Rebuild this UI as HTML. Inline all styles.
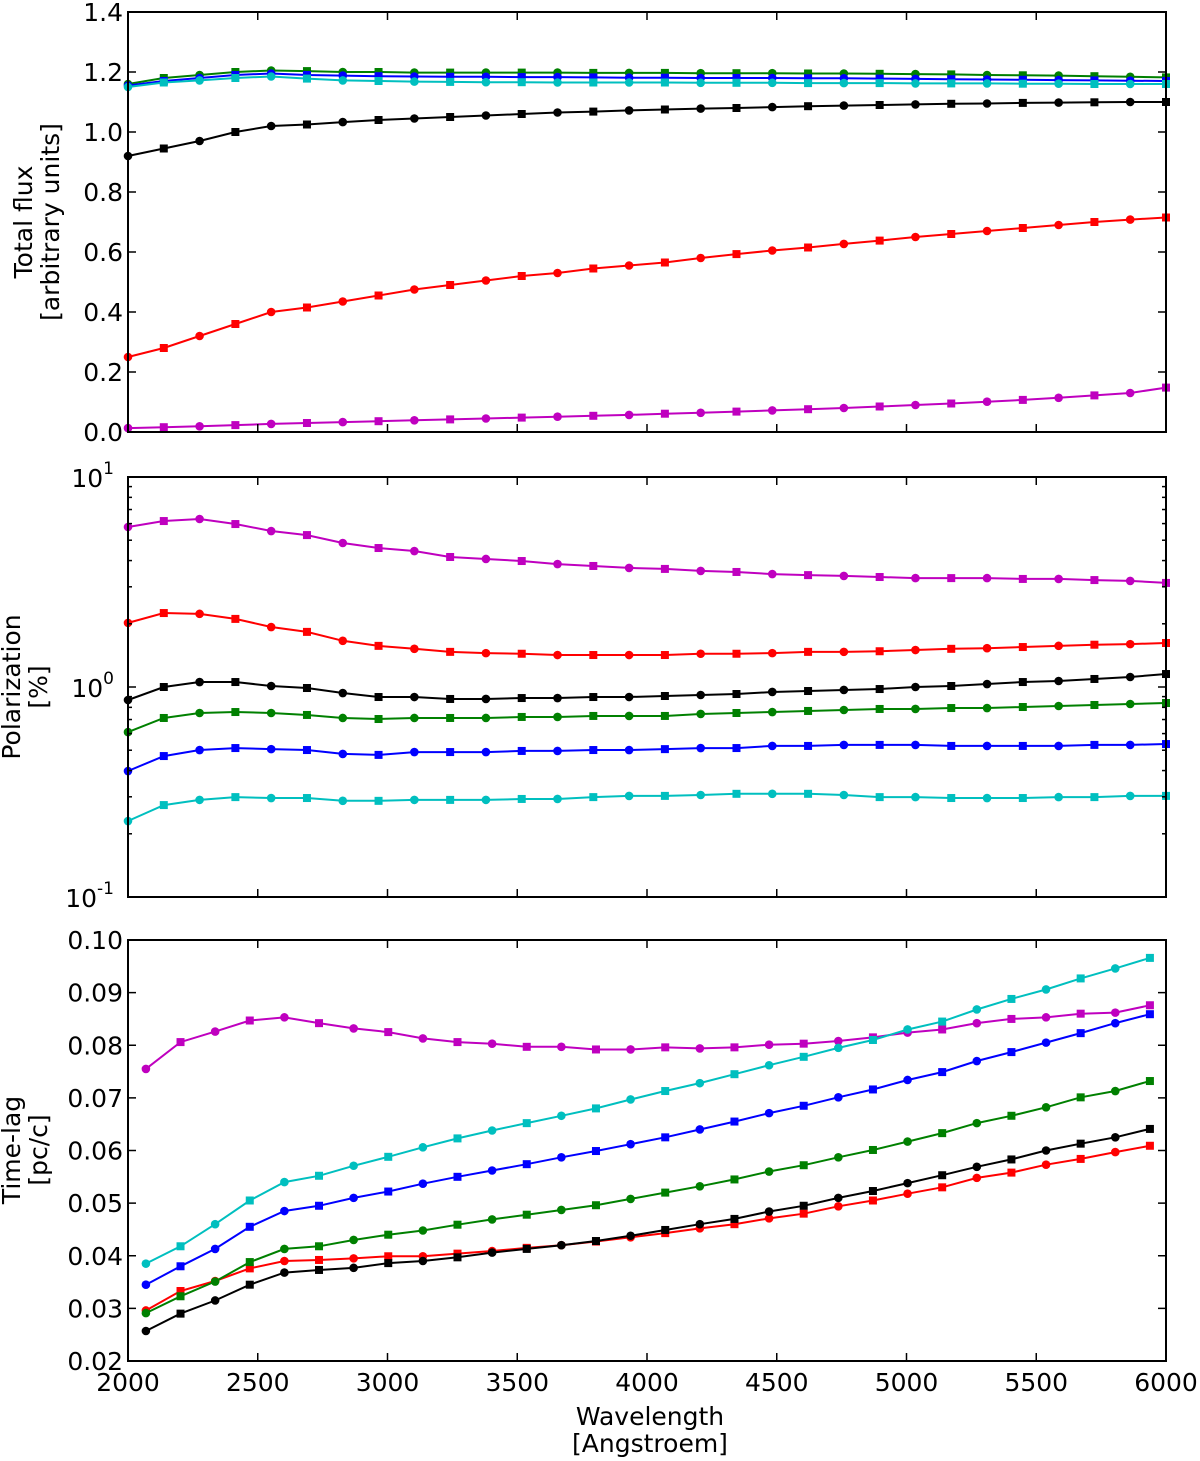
<!DOCTYPE html>
<html><head><meta charset="utf-8"><style>
html,body{margin:0;padding:0;background:#fff;}
svg{display:block;font-family:"DejaVu Sans","Liberation Sans",sans-serif;}
</style></head><body>
<svg id="chart" width="1200" height="1461" viewBox="0 0 1200 1461" xmlns="http://www.w3.org/2000/svg"></svg>
<script>
const seriesColors = ['#bf00bf','#ff0000','#000000','#008000','#0000ff','#00bfbf'];
const seriesNames = ['magenta','red','black','green','blue','cyan'];
// Panel 1: total flux
const flux_m=[0.013,0.016,0.019,0.023,0.027,0.030,0.033,0.036,0.039,0.042,0.045,0.048,0.051,0.054,0.057,0.061,0.064,0.068,0.072,0.076,0.080,0.085,0.090,0.095,0.101,0.107,0.114,0.122,0.130,0.148];
const flux_r=[0.25,0.28,0.32,0.36,0.40,0.415,0.435,0.455,0.475,0.49,0.505,0.52,0.53,0.545,0.555,0.565,0.58,0.593,0.605,0.615,0.627,0.638,0.65,0.66,0.67,0.68,0.69,0.70,0.708,0.715];
const flux_k=[0.92,0.945,0.97,1.0,1.02,1.025,1.033,1.04,1.045,1.05,1.055,1.06,1.065,1.068,1.072,1.075,1.078,1.08,1.083,1.086,1.088,1.09,1.092,1.094,1.095,1.097,1.098,1.099,1.1,1.1];
const flux_g=[1.16,1.18,1.19,1.2,1.205,1.203,1.2,1.2,1.198,1.198,1.198,1.198,1.198,1.197,1.197,1.197,1.196,1.196,1.196,1.195,1.195,1.194,1.193,1.192,1.19,1.189,1.188,1.186,1.184,1.182];
const flux_b=[1.155,1.17,1.18,1.19,1.195,1.19,1.188,1.186,1.185,1.184,1.184,1.183,1.183,1.182,1.181,1.181,1.18,1.18,1.18,1.179,1.179,1.178,1.177,1.176,1.175,1.174,1.173,1.172,1.171,1.17];
const flux_c=[1.15,1.165,1.172,1.18,1.185,1.178,1.172,1.17,1.168,1.167,1.166,1.166,1.165,1.165,1.165,1.165,1.164,1.164,1.164,1.163,1.163,1.163,1.162,1.162,1.162,1.161,1.161,1.16,1.16,1.16];
// Panel 2: polarization (%)
const pol_m=[5.78,6.17,6.31,5.97,5.53,5.29,4.85,4.59,4.44,4.16,4.07,3.98,3.85,3.77,3.69,3.65,3.57,3.53,3.45,3.41,3.38,3.34,3.30,3.30,3.30,3.27,3.27,3.23,3.20,3.13];
const pol_r=[2.02,2.25,2.23,2.11,1.93,1.83,1.66,1.57,1.52,1.47,1.45,1.44,1.42,1.42,1.42,1.42,1.44,1.44,1.45,1.47,1.47,1.48,1.50,1.52,1.53,1.55,1.57,1.59,1.60,1.62];
const pol_k=[0.867,1.0,1.056,1.056,1.011,0.989,0.936,0.896,0.896,0.877,0.877,0.886,0.886,0.896,0.896,0.906,0.916,0.926,0.947,0.957,0.968,0.978,1.0,1.011,1.033,1.056,1.068,1.092,1.116,1.153];
const pol_g=[0.610,0.712,0.752,0.760,0.752,0.736,0.712,0.704,0.712,0.712,0.712,0.720,0.720,0.728,0.728,0.728,0.744,0.752,0.760,0.769,0.777,0.786,0.786,0.794,0.794,0.803,0.812,0.821,0.830,0.839];
const pol_b=[0.398,0.469,0.501,0.512,0.506,0.501,0.480,0.475,0.490,0.490,0.490,0.496,0.496,0.501,0.501,0.506,0.512,0.512,0.524,0.524,0.530,0.530,0.530,0.524,0.524,0.524,0.524,0.530,0.530,0.535];
const pol_c=[0.230,0.274,0.290,0.299,0.296,0.296,0.287,0.287,0.290,0.290,0.290,0.293,0.293,0.299,0.303,0.303,0.306,0.310,0.310,0.310,0.306,0.299,0.299,0.296,0.296,0.296,0.299,0.299,0.303,0.303];
// Panel 3: time-lag (pc/c)
const lag_m=[0.0755,0.0806,0.0826,0.0847,0.0853,0.0842,0.0832,0.0825,0.0813,0.0806,0.0803,0.0797,0.0797,0.0792,0.0792,0.0796,0.0794,0.0796,0.0801,0.0803,0.0808,0.0815,0.0824,0.0830,0.0842,0.0850,0.0853,0.0860,0.0862,0.0876];
const lag_r=[0.0296,0.0333,0.0352,0.0376,0.039,0.0392,0.0395,0.0399,0.0399,0.0404,0.0409,0.0415,0.042,0.0427,0.0435,0.0443,0.0452,0.046,0.0471,0.048,0.0494,0.0505,0.0518,0.053,0.0548,0.0558,0.0573,0.0584,0.0597,0.0609];
const lag_k=[0.0257,0.029,0.0315,0.0345,0.0368,0.0373,0.0377,0.0386,0.039,0.0397,0.0406,0.0413,0.042,0.0428,0.0438,0.0449,0.046,0.047,0.0484,0.0495,0.051,0.0523,0.0538,0.0553,0.0569,0.0583,0.06,0.0613,0.0625,0.0641];
const lag_g=[0.0291,0.0323,0.0351,0.0388,0.0413,0.0418,0.043,0.044,0.0448,0.0459,0.0469,0.0478,0.0487,0.0496,0.0508,0.052,0.0532,0.0545,0.056,0.0572,0.0587,0.0601,0.0617,0.0633,0.0652,0.0666,0.0682,0.0701,0.0713,0.0732];
const lag_b=[0.0345,0.038,0.0413,0.0455,0.0485,0.0495,0.051,0.0522,0.0537,0.055,0.0562,0.0574,0.0587,0.0599,0.0612,0.0625,0.064,0.0655,0.0671,0.0685,0.0701,0.0716,0.0734,0.0749,0.077,0.0787,0.0805,0.0823,0.0842,0.0859];
const lag_c=[0.0385,0.0418,0.046,0.0505,0.054,0.0552,0.0571,0.0588,0.0606,0.0623,0.0638,0.0652,0.0666,0.068,0.0697,0.0713,0.0728,0.0745,0.0762,0.0778,0.0795,0.0810,0.0830,0.0845,0.0868,0.0888,0.0906,0.0927,0.0946,0.0966];
const xTicks=[2000,2500,3000,3500,4000,4500,5000,5500,6000];
const fluxTicks=['0.0','0.2','0.4','0.6','0.8','1.0','1.2','1.4'];
const lagTicks=['0.02','0.03','0.04','0.05','0.06','0.07','0.08','0.09','0.10'];

const NS='http://www.w3.org/2000/svg';
const svg=document.getElementById('chart');
function mk(tag,attrs,parent){const e=document.createElementNS(NS,tag);for(const k in attrs)e.setAttribute(k,attrs[k]);(parent||svg).appendChild(e);return e;}
const X0=128,X1=1166;
const xs=v=>X0+(v-2000)/4000*(X1-X0);
const N=30;
const wlA=[],wlB=[];
for(let i=0;i<N;i++){wlA.push(2000+i*4000/(N-1));wlB.push(2069+i*(5938-2069)/(N-1));}

function panel(name,top,bot,ys,sets,wl,yTickVals,yTickLabels,minor,log){
  const g=mk('g',{});
  
  
  sets.forEach((arr,si)=>{
    const sg=mk('g',{},g);
    
    
    const pts=arr.map((v,i)=>xs(wl[i]).toFixed(1)+','+ys(v).toFixed(1)).join(' ');
    const pl=mk('polyline',{points:pts,fill:'none',stroke:seriesColors[si],'stroke-width':2},sg);
    
    
    arr.forEach((v,i)=>{
      const cx=xs(wl[i]),cy=ys(v);
      let m;
      if(i%2===0) m=mk('circle',{cx:cx,cy:cy,r:4.3,fill:seriesColors[si]},sg);
      else m=mk('rect',{x:cx-4,y:cy-4,width:8,height:8,fill:seriesColors[si]},sg);
      
      
    });
  });
  const fr=mk('rect',{x:X0,y:top,width:X1-X0,height:bot-top,fill:'none',stroke:'#000','stroke-width':2},g);
  
  
  xTicks.forEach(t=>{const x=xs(t);
    mk('line',{x1:x,y1:bot,x2:x,y2:bot-8,stroke:'#000','stroke-width':1.5},g);
    mk('line',{x1:x,y1:top,x2:x,y2:top+8,stroke:'#000','stroke-width':1.5},g);});
  yTickVals.forEach((v,i)=>{const y=ys(v);
    mk('line',{x1:X0,y1:y,x2:X0+8,y2:y,stroke:'#000','stroke-width':1.5},g);
    mk('line',{x1:X1,y1:y,x2:X1-8,y2:y,stroke:'#000','stroke-width':1.5},g);
    if(log){
      const t=mk('text',{x:X0-14,y:y+10,'font-size':25,'text-anchor':'end'},g);
      t.textContent='10';
      const s=mk('tspan',{dy:-13,'font-size':17},t);s.textContent=yTickLabels[i];
      
      
    } else {
      const t=mk('text',{x:X0-5,y:y+9,'font-size':25,'text-anchor':'end'},g);
      t.textContent=yTickLabels[i];
      
      
    }
  });
  (minor||[]).forEach(v=>{const y=ys(v);
    mk('line',{x1:X0,y1:y,x2:X0+4,y2:y,stroke:'#000','stroke-width':1.5},g);
    mk('line',{x1:X1,y1:y,x2:X1-4,y2:y,stroke:'#000','stroke-width':1.5},g);});
  return g;
}
const y1=v=>432-v/1.4*420;
panel('flux-panel',12,432,y1,[flux_m,flux_r,flux_k,flux_g,flux_b,flux_c],wlA,fluxTicks.map(Number),fluxTicks,null,false);
const y2=v=>687-Math.log10(v)*210;
const minor2=[];for(let d=-1;d<=0;d++)for(let k=2;k<=9;k++)minor2.push(k*Math.pow(10,d));
panel('polarization-panel',477,897,y2,[pol_m,pol_r,pol_k,pol_g,pol_b,pol_c],wlA,[10,1,0.1],['1','0','-1'],minor2,true);
const y3=v=>1361-(v-0.02)/0.08*421;
panel('time-lag-panel',940,1361,y3,[lag_m,lag_r,lag_k,lag_g,lag_b,lag_c],wlB,lagTicks.map(Number),lagTicks,null,false);
xTicks.forEach(t=>{const tx=mk('text',{x:xs(t),y:1391,'font-size':25,'text-anchor':'middle'});
  tx.textContent=t;
  
  });
function label(lines,x,y,rot,nm){
  const t=mk('text',{x:x,y:y,'font-size':25,'text-anchor':'middle',transform:rot?`rotate(-90 ${x} ${y})`:''});
  
  
  lines.forEach((l,i)=>{const s=mk('tspan',{x:x,dy:i?27:0},t);s.textContent=l;});
}
label(['Wavelength','[Angstroem]'],650,1425,false,'x-axis-title');
label(['Total flux','[arbitrary units]'],32,222,true,'flux-y-axis-title');
label(['Polarization','[%]'],20,687,true,'polarization-y-axis-title');
label(['Time-lag','[pc/c]'],20,1150,true,'time-lag-y-axis-title');
</script>
</body></html>
